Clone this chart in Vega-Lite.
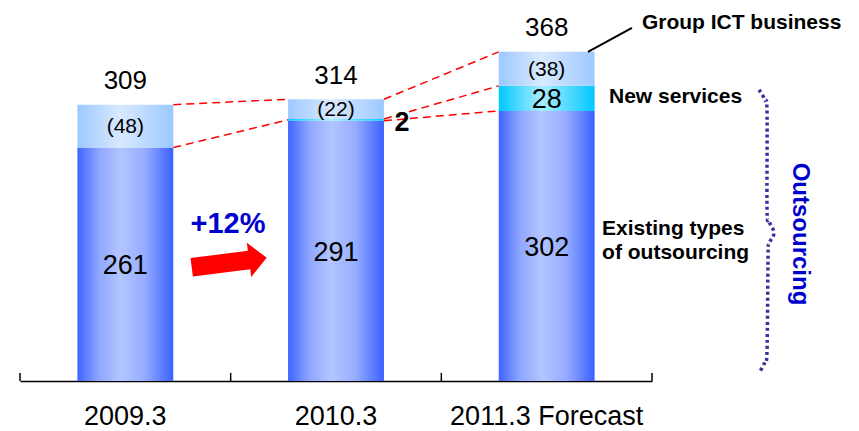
{
  "$schema": "https://vega.github.io/schema/vega-lite/v6.json",
  "width": 632,
  "height": 381,
  "autosize": "none",
  "padding": {"left": 20, "top": 0, "right": 207, "bottom": 50},
  "background": "white",
  "config": {"view": {"stroke": null}, "font": "Liberation Sans"},
  "datasets": {
    "bars": [
      {"year": "2009.3", "segment": "Existing types of outsourcing", "order": 1, "value": 261, "label": "261"},
      {"year": "2009.3", "segment": "Group ICT business", "order": 3, "value": 48, "label": "(48)"},
      {"year": "2010.3", "segment": "Existing types of outsourcing", "order": 1, "value": 291, "label": "291"},
      {"year": "2010.3", "segment": "New services", "order": 2, "value": 2, "label": "2"},
      {"year": "2010.3", "segment": "Group ICT business", "order": 3, "value": 22, "label": "(22)"},
      {"year": "2011.3 Forecast", "segment": "Existing types of outsourcing", "order": 1, "value": 302, "label": "302"},
      {"year": "2011.3 Forecast", "segment": "New services", "order": 2, "value": 28, "label": "28"},
      {"year": "2011.3 Forecast", "segment": "Group ICT business", "order": 3, "value": 38, "label": "(38)"}
    ],
    "totals": [
      {"year": "2009.3", "total": 309},
      {"year": "2010.3", "total": 314},
      {"year": "2011.3 Forecast", "total": 368}
    ],
    "connectors": [
      {"from": "2009.3", "to": "2010.3", "a": 309, "b": 315},
      {"from": "2009.3", "to": "2010.3", "a": 261, "b": 292},
      {"from": "2010.3", "to": "2011.3 Forecast", "a": 315, "b": 368},
      {"from": "2010.3", "to": "2011.3 Forecast", "a": 293, "b": 330},
      {"from": "2010.3", "to": "2011.3 Forecast", "a": 291, "b": 302}
    ],
    "boundaries": [{"b": 0}, {"b": 1}, {"b": 2}, {"b": 3}],
    "brace": [
      {"i": 1, "bx": 3.508, "by": 325.5},
      {"i": 2, "bx": 3.536, "by": 314.3},
      {"i": 3, "bx": 3.546, "by": 300.9},
      {"i": 4, "bx": 3.546, "by": 191.3},
      {"i": 5, "bx": 3.555, "by": 179.0},
      {"i": 6, "bx": 3.579, "by": 165.5},
      {"i": 7, "bx": 3.555, "by": 153.2},
      {"i": 8, "bx": 3.551, "by": 139.8},
      {"i": 9, "bx": 3.546, "by": 34.7},
      {"i": 10, "bx": 3.536, "by": 21.3},
      {"i": 11, "bx": 3.508, "by": 8.9}
    ]
  },
  "layer": [
    {
      "layer": [
        {
          "data": {"name": "connectors"},
          "mark": {"type": "rule", "color": "#ff0000", "strokeWidth": 1.5, "strokeDash": [8, 5]},
          "encoding": {
            "x": {"field": "from", "type": "nominal", "bandPosition": 1, "title": null},
            "x2": {"field": "to", "bandPosition": 0},
            "y": {"field": "a", "type": "quantitative", "scale": {"domain": [0, 426], "nice": false}, "axis": null},
            "y2": {"field": "b"}
          }
        },
        {
          "data": {"name": "bars"},
          "transform": [
            {"stack": "value", "groupby": ["year"], "sort": [{"field": "order", "order": "ascending"}], "as": ["v0", "v1"]},
            {"filter": {"field": "segment", "equal": "Existing types of outsourcing"}}
          ],
          "mark": {"type": "bar", "color": {"gradient": "linear", "x1": 0, "x2": 1, "y1": 0, "y2": 0, "stops": [
            {"offset": 0, "color": "#3d64ff"},
            {"offset": 0.22, "color": "#8ea6ff"},
            {"offset": 0.45, "color": "#b3c5ff"},
            {"offset": 0.7, "color": "#97adff"},
            {"offset": 1, "color": "#3a60ff"}
          ]}},
          "encoding": {
            "x": {
              "field": "year", "type": "nominal", "title": null,
              "scale": {"paddingInner": 0.545, "paddingOuter": 0.2725},
              "axis": {
                "labelAngle": 0, "labelAlign": "center", "labelLimit": 0,
                "labelFont": "Liberation Sans", "labelFontSize": 27, "labelColor": "black",
                "labelBaseline": "alphabetic", "labelPadding": 43,
                "domainColor": "black", "domainWidth": 1.5,
                "ticks": false
              }
            },
            "y": {"field": "v1", "type": "quantitative", "scale": {"domain": [0, 426], "nice": false}, "axis": null},
            "y2": {"field": "v0"}
          }
        },
        {
          "data": {"name": "bars"},
          "transform": [
            {"stack": "value", "groupby": ["year"], "sort": [{"field": "order", "order": "ascending"}], "as": ["v0", "v1"]},
            {"filter": {"field": "segment", "equal": "New services"}}
          ],
          "mark": {"type": "bar", "color": {"gradient": "linear", "x1": 0, "x2": 1, "y1": 0, "y2": 0, "stops": [
            {"offset": 0, "color": "#00c8ff"},
            {"offset": 0.45, "color": "#aaecff"},
            {"offset": 1, "color": "#00c8ff"}
          ]}},
          "encoding": {
            "x": {"field": "year", "type": "nominal", "title": null},
            "y": {"field": "v1", "type": "quantitative"},
            "y2": {"field": "v0"}
          }
        },
        {
          "data": {"name": "bars"},
          "transform": [
            {"stack": "value", "groupby": ["year"], "sort": [{"field": "order", "order": "ascending"}], "as": ["v0", "v1"]},
            {"filter": {"field": "segment", "equal": "Group ICT business"}}
          ],
          "mark": {"type": "bar", "color": {"gradient": "linear", "x1": 0, "x2": 1, "y1": 0, "y2": 0, "stops": [
            {"offset": 0, "color": "#9cc9ff"},
            {"offset": 0.45, "color": "#d9e9ff"},
            {"offset": 1, "color": "#9cc9ff"}
          ]}},
          "encoding": {
            "x": {"field": "year", "type": "nominal", "title": null},
            "y": {"field": "v1", "type": "quantitative"},
            "y2": {"field": "v0"}
          }
        },
        {
          "data": {"name": "bars"},
          "transform": [
            {"stack": "value", "groupby": ["year"], "sort": [{"field": "order", "order": "ascending"}], "as": ["v0", "v1"]},
            {"filter": "datum.segment === 'Existing types of outsourcing' || (datum.segment === 'New services' && datum.year === '2011.3 Forecast')"},
            {"fold": ["v0", "v1"], "as": ["edge", "pos"]},
            {"aggregate": [{"op": "mean", "field": "pos", "as": "mid"}], "groupby": ["year", "segment", "label"]}
          ],
          "mark": {"type": "text", "font": "Liberation Sans", "fontSize": 27, "color": "black", "baseline": "middle", "dy": 2},
          "encoding": {
            "x": {"field": "year", "type": "nominal", "title": null},
            "y": {"field": "mid", "type": "quantitative"},
            "text": {"field": "label"}
          }
        },
        {
          "data": {"name": "bars"},
          "transform": [
            {"stack": "value", "groupby": ["year"], "sort": [{"field": "order", "order": "ascending"}], "as": ["v0", "v1"]},
            {"filter": {"field": "segment", "equal": "Group ICT business"}},
            {"fold": ["v0", "v1"], "as": ["edge", "pos"]},
            {"aggregate": [{"op": "mean", "field": "pos", "as": "mid"}], "groupby": ["year", "segment", "label"]}
          ],
          "mark": {"type": "text", "font": "Liberation Sans", "fontSize": 21, "color": "black", "baseline": "middle", "dy": 1},
          "encoding": {
            "x": {"field": "year", "type": "nominal", "title": null},
            "y": {"field": "mid", "type": "quantitative"},
            "text": {"field": "label"}
          }
        },
        {
          "data": {"name": "bars"},
          "transform": [
            {"stack": "value", "groupby": ["year"], "sort": [{"field": "order", "order": "ascending"}], "as": ["v0", "v1"]},
            {"filter": "datum.segment === 'New services' && datum.year === '2010.3'"}
          ],
          "mark": {"type": "text", "font": "Liberation Sans", "fontSize": 27, "fontWeight": "bold", "color": "black", "baseline": "middle", "dy": 4},
          "encoding": {
            "x": {"field": "year", "type": "nominal", "bandPosition": 1.19, "title": null},
            "y": {"field": "v1", "type": "quantitative"},
            "text": {"field": "label"}
          }
        },
        {
          "data": {"name": "totals"},
          "mark": {"type": "text", "font": "Liberation Sans", "fontSize": 26, "color": "black", "baseline": "alphabetic", "dy": -16},
          "encoding": {
            "x": {"field": "year", "type": "nominal", "title": null},
            "y": {"field": "total", "type": "quantitative"},
            "text": {"field": "total", "type": "quantitative"}
          }
        }
      ]
    },
    {
      "layer": [
        {
          "data": {"name": "boundaries"},
          "mark": {"type": "rule", "color": "black", "strokeWidth": 1.5},
          "encoding": {
            "x": {"field": "b", "type": "quantitative", "scale": {"domain": [0, 3], "nice": false, "zero": false}, "axis": null},
            "y": {"datum": 0, "type": "quantitative", "scale": {"domain": [0, 426], "nice": false}, "axis": null},
            "y2": {"datum": 9}
          }
        },
        {
          "data": {"name": "brace"},
          "mark": {"type": "line", "color": "#333399", "strokeWidth": 3.5, "strokeDash": [3, 3], "interpolate": "cardinal"},
          "encoding": {
            "x": {"field": "bx", "type": "quantitative"},
            "y": {"field": "by", "type": "quantitative"},
            "order": {"field": "i"}
          }
        },
        {
          "data": {"values": [{}]},
          "mark": {"type": "rule", "color": "black", "strokeWidth": 2},
          "encoding": {
            "x": {"datum": 2.696, "type": "quantitative"},
            "x2": {"datum": 2.905},
            "y": {"datum": 368, "type": "quantitative"},
            "y2": {"datum": 394.9}
          }
        },
        {
          "data": {"values": [{}]},
          "mark": {"type": "point", "shape": "M -1 -0.245 L 0.53 -0.245 L 0.53 -0.456 L 1 0 L 0.53 0.456 L 0.53 0.245 L -1 0.245 Z", "size": 5715, "angle": -7.3, "filled": true, "color": "#ff0000", "opacity": 1, "strokeWidth": 0},
          "encoding": {
            "x": {"datum": 0.993, "type": "quantitative"},
            "y": {"datum": 132.5, "type": "quantitative"}
          }
        },
        {
          "data": {"values": [{}]},
          "mark": {"type": "text", "text": "+12%", "font": "Liberation Sans", "fontSize": 29, "fontWeight": "bold", "color": "#0000cc", "align": "center", "baseline": "alphabetic"},
          "encoding": {
            "x": {"datum": 0.987, "type": "quantitative"},
            "y": {"datum": 165.5, "type": "quantitative"}
          }
        },
        {
          "data": {"values": [{}]},
          "mark": {"type": "text", "text": "Group ICT business", "font": "Liberation Sans", "fontSize": 21, "fontWeight": "bold", "color": "black", "align": "left", "baseline": "alphabetic"},
          "encoding": {
            "x": {"datum": 2.952, "type": "quantitative"},
            "y": {"datum": 393.7, "type": "quantitative"}
          }
        },
        {
          "data": {"values": [{}]},
          "mark": {"type": "text", "text": "New services", "font": "Liberation Sans", "fontSize": 21, "fontWeight": "bold", "color": "black", "align": "left", "baseline": "alphabetic"},
          "encoding": {
            "x": {"datum": 2.796, "type": "quantitative"},
            "y": {"datum": 311.0, "type": "quantitative"}
          }
        },
        {
          "data": {"values": [{}]},
          "mark": {"type": "text", "text": ["Existing types", "of outsourcing"], "lineHeight": 24, "font": "Liberation Sans", "fontSize": 21, "fontWeight": "bold", "color": "black", "align": "left", "baseline": "alphabetic"},
          "encoding": {
            "x": {"datum": 2.763, "type": "quantitative"},
            "y": {"datum": 163.3, "type": "quantitative"}
          }
        },
        {
          "data": {"values": [{}]},
          "mark": {"type": "text", "text": "Outsourcing", "angle": 90, "font": "Liberation Sans", "fontSize": 24, "fontWeight": "bold", "color": "#0000cc", "align": "center", "baseline": "alphabetic"},
          "encoding": {
            "x": {"datum": 3.669, "type": "quantitative"},
            "y": {"datum": 164.4, "type": "quantitative"}
          }
        }
      ]
    }
  ],
  "resolve": {"scale": {"x": "independent"}}
}
